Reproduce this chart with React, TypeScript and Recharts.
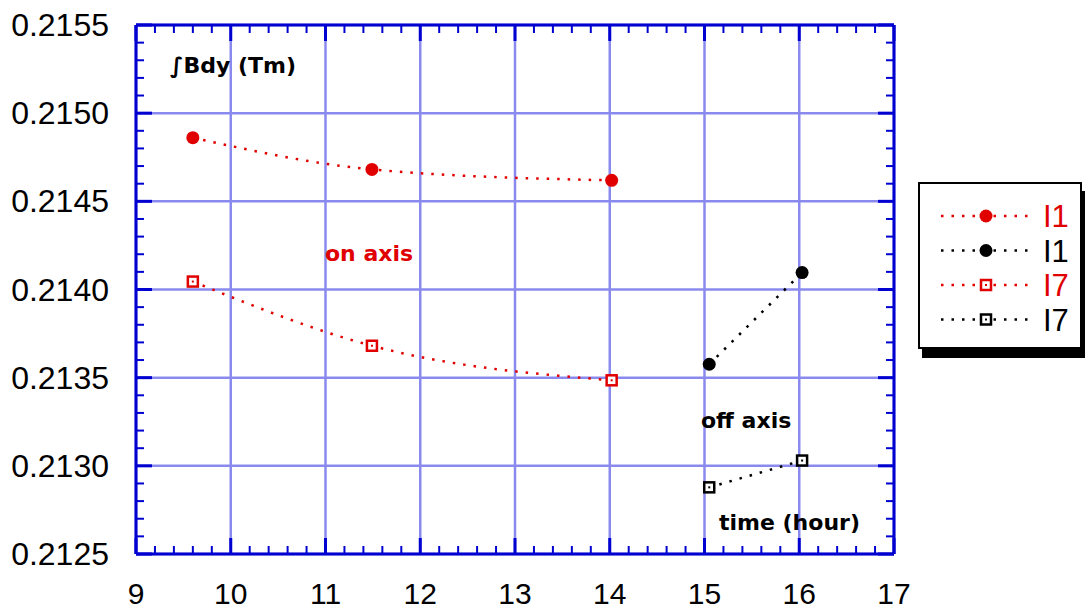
import React from "react";
import { LineChart, Line, XAxis, YAxis, CartesianGrid } from "recharts";

const xMajorTicks = [9, 10, 11, 12, 13, 14, 15, 16, 17];
const yMajorTicks = [0.2125, 0.213, 0.2135, 0.214, 0.2145, 0.215, 0.2155];

const onAxisI1 = [
  { x: 9.6, y: 0.214861 },
  { x: 11.49, y: 0.214681 },
  { x: 14.02, y: 0.214619 },
];
const onAxisI7 = [
  { x: 9.6, y: 0.214045 },
  { x: 11.49, y: 0.213681 },
  { x: 14.02, y: 0.213485 },
];
const offAxisI1 = [
  { x: 15.05, y: 0.213576 },
  { x: 16.03, y: 0.214096 },
];
const offAxisI7 = [
  { x: 15.05, y: 0.212878 },
  { x: 16.03, y: 0.21303 },
];

const legendLabels = ["I1", "I1", "I7", "I7"];

const RED = "#e00000";
const BLACK = "#000000";
const AXIS = "#0000d0";
const GRID = "#8a8aee";
const NUMFONT = "'Liberation Sans', Arial, sans-serif";
const BOLDFONT = "'DejaVu Sans', Verdana, sans-serif";

// minor ticks subdividing majors in 5
const xTicks: number[] = [];
for (let k = 45; k <= 85; k++) xTicks.push(k / 5);
const yTicks: number[] = [];
for (let k = 2125; k <= 2155; k++) yTicks.push(k / 10000);

const isXMajor = (v: number) => Math.abs(v - Math.round(v)) < 1e-6;
const isYMajor = (v: number) => Math.abs(v * 2000 - Math.round(v * 2000)) < 1e-6;

const BottomTick = (props: any) => {
  const { x, y, payload } = props;
  const major = isXMajor(payload.value);
  return (
    <g>
      <line x1={x} x2={x} y1={y} y2={y - (major ? 16 : 8)} stroke={AXIS} strokeWidth={major ? 3 : 2} />
      {major && (
        <text x={x} y={y + 50} textAnchor="middle" fontSize={30} fontFamily={NUMFONT} fill="#000">
          {Math.round(payload.value)}
        </text>
      )}
    </g>
  );
};
const TopTick = (props: any) => {
  const { x, y, payload } = props;
  const major = isXMajor(payload.value);
  return <line x1={x} x2={x} y1={y} y2={y + (major ? 16 : 8)} stroke={AXIS} strokeWidth={major ? 3 : 2} />;
};
const LeftTick = (props: any) => {
  const { x, y, payload } = props;
  const major = isYMajor(payload.value);
  return (
    <g>
      <line x1={x} x2={x + (major ? 16 : 8)} y1={y} y2={y} stroke={AXIS} strokeWidth={major ? 3 : 2} />
      {major && (
        <text x={x - 27} y={y + 11} textAnchor="end" fontSize={32} fontFamily={NUMFONT} fill="#000">
          {payload.value.toFixed(4)}
        </text>
      )}
    </g>
  );
};
const RightTick = (props: any) => {
  const { x, y, payload } = props;
  const major = isYMajor(payload.value);
  return <line x1={x} x2={x - (major ? 16 : 8)} y1={y} y2={y} stroke={AXIS} strokeWidth={major ? 3 : 2} />;
};

const circleDot = (color: string) => (p: any) => (
  <circle key={`c${p.index}`} cx={p.cx} cy={p.cy} r={6.5} fill={color} stroke="none" />
);
const squareDot = (color: string) => (p: any) => (
  <g key={`s${p.index}`}>
    <rect x={p.cx - 5} y={p.cy - 5} width={10} height={10} fill="#fff" stroke={color} strokeWidth={2.5} />
    <rect x={p.cx - 1} y={p.cy - 1} width={2} height={2} fill={color} />
  </g>
);

const legendItems = [
  { color: RED, shape: "circle" },
  { color: BLACK, shape: "circle" },
  { color: RED, shape: "square" },
  { color: BLACK, shape: "square" },
];

export default function App() {
  return (
    <div style={{ position: "absolute", left: 0, top: 0, width: 1085, height: 612, background: "#fff" }}>
      <LineChart width={1085} height={612} margin={{ top: 24, right: 190, bottom: 0, left: 0 }}>
        <CartesianGrid
          horizontalValues={yMajorTicks}
          verticalValues={xMajorTicks}
          stroke={GRID}
          strokeWidth={2.5}
        />
        <XAxis
          xAxisId={0}
          type="number"
          dataKey="x"
          domain={[9, 17]}
          ticks={xTicks}
          interval={0}
          tickSize={0}
          tickMargin={0}
          height={58}
          axisLine={{ stroke: AXIS, strokeWidth: 3 }}
          tick={<BottomTick />}
          allowDataOverflow
        />
        <XAxis
          xAxisId="top"
          orientation="top"
          type="number"
          dataKey="x"
          domain={[9, 17]}
          ticks={xTicks}
          interval={0}
          tickSize={0}
          tickMargin={0}
          height={1}
          axisLine={{ stroke: AXIS, strokeWidth: 3 }}
          tick={<TopTick />}
          allowDataOverflow
        />
        <YAxis
          yAxisId={0}
          type="number"
          dataKey="y"
          domain={[0.2125, 0.2155]}
          ticks={yTicks}
          interval={0}
          tickSize={0}
          tickMargin={0}
          width={136}
          axisLine={{ stroke: AXIS, strokeWidth: 3 }}
          tick={<LeftTick />}
          allowDataOverflow
        />
        <YAxis
          yAxisId="right"
          orientation="right"
          type="number"
          dataKey="y"
          domain={[0.2125, 0.2155]}
          ticks={yTicks}
          interval={0}
          tickSize={0}
          tickMargin={0}
          width={1}
          axisLine={{ stroke: AXIS, strokeWidth: 3 }}
          tick={<RightTick />}
          allowDataOverflow
        />
        <Line data={onAxisI1} dataKey="y" type="monotone" stroke={RED} strokeWidth={2.5} strokeDasharray="2.5 8" dot={circleDot(RED)} isAnimationActive={false} />
        <Line data={onAxisI7} dataKey="y" type="monotone" stroke={RED} strokeWidth={2.5} strokeDasharray="2.5 8" dot={squareDot(RED)} isAnimationActive={false} />
        <Line data={offAxisI1} dataKey="y" type="monotone" stroke={BLACK} strokeWidth={2.5} strokeDasharray="2.5 8" dot={circleDot(BLACK)} isAnimationActive={false} />
        <Line data={offAxisI7} dataKey="y" type="monotone" stroke={BLACK} strokeWidth={2.5} strokeDasharray="2.5 8" dot={squareDot(BLACK)} isAnimationActive={false} />
      </LineChart>

      <svg width={1085} height={612} style={{ position: "absolute", left: 0, top: 0, pointerEvents: "none" }}>
        <g fontFamily={BOLDFONT} fontWeight="bold" fontSize={22}>
          <text x={170} y={73} fill="#000">∫Bdy (Tm)</text>
          <text x={325} y={261} fill={RED}>on axis</text>
          <text x={701} y={428} fill="#000">off axis</text>
          <text x={719} y={530} fill="#000">time (hour)</text>
        </g>
      </svg>

      <div
        style={{
          position: "absolute",
          left: 918,
          top: 182,
          width: 160,
          height: 163,
          background: "#fff",
          border: "2px solid #000",
          boxShadow: "4px 9px 0 #000",
        }}
      >
        <svg width={160} height={163}>
          {legendItems.map((it, i) => {
            const cy = 32 + i * 34.5;
            return (
              <g key={i}>
                <line x1={21} x2={110} y1={cy} y2={cy} stroke={it.color} strokeWidth={2.5} strokeDasharray="2.5 8" />
                {it.shape === "circle" ? (
                  <circle cx={66} cy={cy} r={6.5} fill={it.color} />
                ) : (
                  <g>
                    <rect x={61} y={cy - 5} width={10} height={10} fill="#fff" stroke={it.color} strokeWidth={2.5} />
                    <rect x={65} y={cy - 1} width={2} height={2} fill={it.color} />
                  </g>
                )}
                <text x={123} y={cy + 11} fontSize={31} fontFamily={NUMFONT} fill={it.color}>
                  {legendLabels[i]}
                </text>
              </g>
            );
          })}
        </svg>
      </div>
    </div>
  );
}
